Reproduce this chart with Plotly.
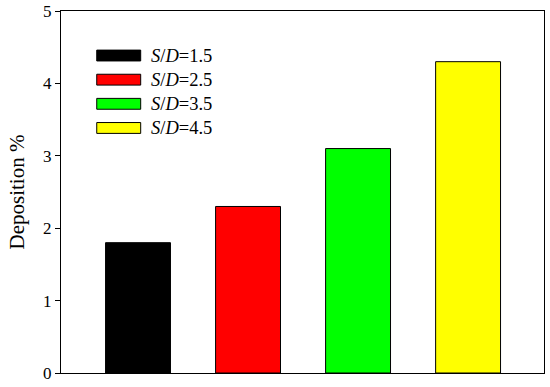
import plotly.graph_objects as go

# data
spacings = ["1.5", "2.5", "3.5", "4.5"]
deposition = [1.8, 2.3, 3.1, 4.3]
colors = ["#000000", "#ff0000", "#00ff00", "#ffff00"]
y_ticks = [0, 1, 2, 3, 4, 5]

font = "Liberation Serif, Times New Roman, serif"

fig = go.Figure()
for i, (sd, val, col) in enumerate(zip(spacings, deposition, colors)):
    fig.add_trace(go.Bar(
        x=[i], y=[val], width=0.59,
        marker=dict(color=col, line=dict(color="black", width=1)),
        name="S/D=" + sd, showlegend=False,
    ))

# legend drawn as wide boxes like the original
for i, (sd, col) in enumerate(zip(spacings, colors)):
    yc = 0.877 - i * 0.0667
    fig.add_shape(type="rect", xref="paper", yref="paper",
                  x0=0.074, x1=0.165, y0=yc - 0.015, y1=yc + 0.015,
                  fillcolor=col, line=dict(color="black", width=1))
    fig.add_annotation(xref="paper", yref="paper", x=0.183, y=yc,
                       xanchor="left", yanchor="middle", showarrow=False,
                       text="<i>S</i>/<i>D</i>=" + sd,
                       font=dict(family=font, size=18.5, color="black"))

fig.update_layout(
    width=550, height=387,
    margin=dict(l=61, r=6, t=11, b=14, autoexpand=False),
    plot_bgcolor="white", paper_bgcolor="white",
    font=dict(family=font, size=16, color="black"),
    xaxis=dict(range=[-0.7, 3.69], showticklabels=False, ticks="",
               showgrid=False, zeroline=False, automargin=False,
               showline=True, linecolor="black", linewidth=1, mirror=True),
    yaxis=dict(range=[0, 5], tickvals=y_ticks, ticks="outside", ticklen=5,
               tickcolor="black", showgrid=False, zeroline=False,
               automargin=False,
               showline=True, linecolor="black", linewidth=1, mirror=True,
               title=dict(text="Deposition %", font=dict(size=21), standoff=12),
               tickfont=dict(size=17)),
)

# drop the default page margin so the figure fills the window
fig.write_html("out.html", config={"displayModeBar": False},
               post_script="document.body.style.margin='0';")
